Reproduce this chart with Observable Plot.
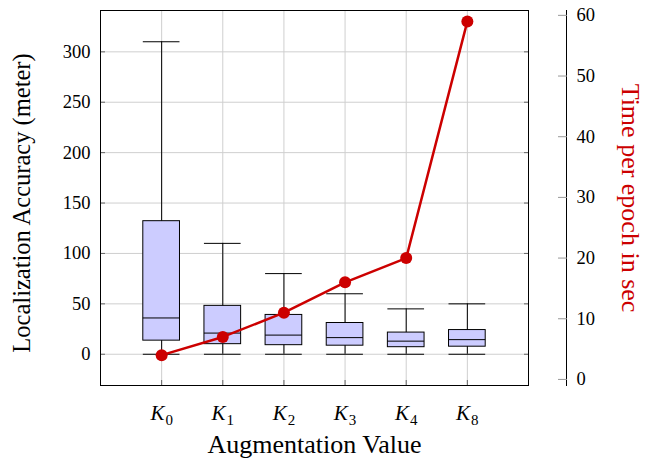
<!DOCTYPE html>
<html>
<head>
<meta charset="utf-8">
<script src="https://cdn.jsdelivr.net/npm/d3@7"></script>
<script src="https://cdn.jsdelivr.net/npm/@observablehq/plot@0.6"></script>
<style>
  html, body { margin: 0; padding: 0; background: #fff; }
  #chart { position: relative; width: 648px; height: 466px; }
  #chart > svg { position: absolute; left: 0; top: 0; }
  #chart text { font-family: 'Liberation Serif', serif !important; font-variant-numeric: normal !important; }
</style>
</head>
<body>
<div id="chart"></div>
<script>
// ---- data ----
const categories = ["K0", "K1", "K2", "K3", "K4", "K8"];
const catSubscripts = ["0", "1", "2", "3", "4", "8"];
const whiskerLow = [0, 0, 0, 0, 0, 0];
const quartile1 = [13.5, 10, 9, 8.5, 7, 7.5];
const median = [36, 21, 19, 16.5, 13, 14.5];
const quartile3 = [132, 48, 39, 31, 21.5, 24];
const whiskerHigh = [310, 110, 80, 60, 45, 50];
const timePerEpoch = [4, 7, 11, 16, 20, 59];
const accuracyTicks = [0, 50, 100, 150, 200, 250, 300];
const timeTicks = [0, 10, 20, 30, 40, 50, 60];

const idx = categories.map((_, i) => i);
const half = 0.3;
const FONT = "'Liberation Serif', serif";
const RED = "#cc0000";

const common = {
  width: 648, height: 466,
  marginTop: 10, marginBottom: 81, marginLeft: 100, marginRight: 120,
  x: {domain: [-1, 6], axis: null},
  style: {fontFamily: FONT, fontSize: "18px", background: "transparent", color: "black"}
};

const main = Plot.plot({
  ...common,
  y: {domain: [-31, 341], axis: null},
  marks: [
    Plot.gridY(accuracyTicks, {stroke: "#cfcfcf", strokeOpacity: 1}),
    Plot.gridX(idx, {stroke: "#cfcfcf", strokeOpacity: 1}),
    Plot.ruleX(idx, {x: i => i, y1: i => whiskerLow[i], y2: i => whiskerHigh[i], stroke: "black", strokeWidth: 1}),
    Plot.ruleY(idx, {y: i => whiskerHigh[i], x1: i => i - half, x2: i => i + half, stroke: "black", strokeWidth: 1}),
    Plot.ruleY(idx, {y: i => whiskerLow[i], x1: i => i - half, x2: i => i + half, stroke: "black", strokeWidth: 1}),
    Plot.rect(idx, {x1: i => i - half, x2: i => i + half, y1: i => quartile1[i], y2: i => quartile3[i], fill: "#ccccff", stroke: "black", strokeWidth: 1}),
    Plot.ruleY(idx, {y: i => median[i], x1: i => i - half, x2: i => i + half, stroke: "black", strokeWidth: 1}),
    Plot.axisY({ticks: accuracyTicks, tickSize: -5, tickPadding: 15, label: null, stroke: "#666", fontFamily: FONT, fontSize: 18.5}),
    Plot.axisY({anchor: "right", ticks: accuracyTicks, tickSize: -5, tickFormat: () => "", label: null, stroke: "#666"}),
    Plot.axisX({ticks: idx, tickSize: -5, tickPadding: 25, tickFormat: i => categories[i], label: null, stroke: "#666", fontFamily: FONT, fontSize: 21}),
    Plot.frame({stroke: "black", strokeWidth: 1}),
    Plot.text(["Localization Accuracy (meter)"], {frameAnchor: "left", textAnchor: "middle", rotate: -90, dx: -78, dy: 5, fontSize: 24.5, fontFamily: FONT, fill: "black"}),
    Plot.text(["Augmentation Value"], {frameAnchor: "bottom", textAnchor: "middle", dy: 67, fontSize: 26, fontFamily: FONT, fill: "black"})
  ]
});

// subscripted category tick labels
d3.select(main).selectAll('[aria-label="x-axis tick label"] text').each(function() {
  const t = d3.select(this);
  const label = t.text();
  const i = categories.indexOf(label);
  t.text("");
  t.append("tspan").attr("font-style", "italic").text(label.slice(0, 1));
  t.append("tspan").attr("font-size", "15px").attr("dx", "1").attr("dy", "0.33em").text(i >= 0 ? catSubscripts[i] : label.slice(1));
});

const time = Plot.plot({
  ...common,
  y: {domain: [-1, 60.8], axis: null},
  marks: [
    Plot.line(idx, {x: i => i, y: i => timePerEpoch[i], stroke: RED, strokeWidth: 2.5}),
    Plot.dot(idx, {x: i => i, y: i => timePerEpoch[i], fill: RED, r: 6}),
    Plot.frame({anchor: "right", dx: 38, stroke: "black", strokeWidth: 1}),
    Plot.axisY({anchor: "right", dx: 38, ticks: timeTicks, tickSize: -9, tickPadding: 19, label: null, stroke: "#999", fontFamily: FONT, fontSize: 18.5}),
    Plot.text(["Time per epoch in sec"], {frameAnchor: "right", textAnchor: "middle", rotate: 90, dx: 102, fontSize: 26, fontFamily: FONT, fill: RED})
  ]
});

document.getElementById("chart").append(main, time);
</script>
</body>
</html>
